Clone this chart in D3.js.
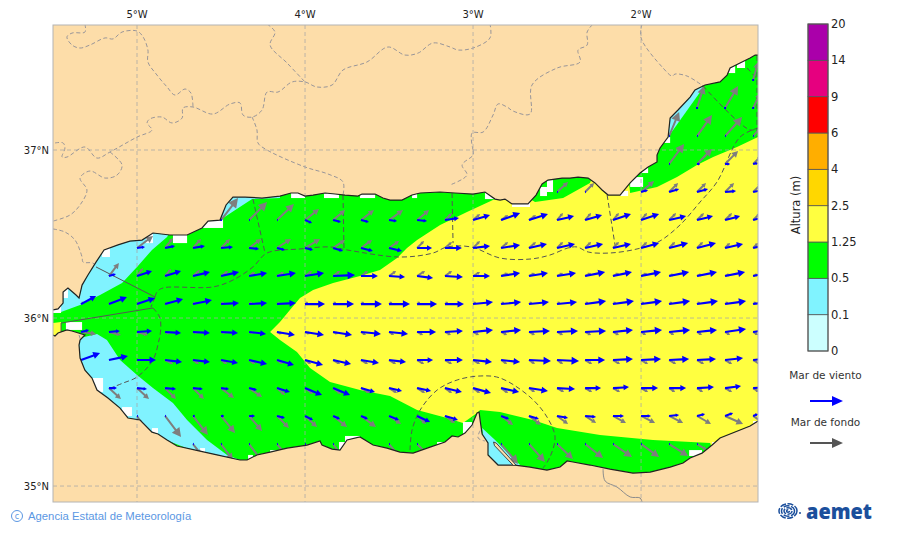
<!DOCTYPE html>
<html><head><meta charset="utf-8">
<style>html,body{margin:0;padding:0;background:#fff}svg{display:block}text{font-family:"DejaVu Sans",sans-serif}</style>
<script src="https://cdn.jsdelivr.net/npm/d3@7/dist/d3.min.js"></script></head><body>
<script>
// ---------- legend data ----------
const levels = ["0","0.1","0.5","1.25","2.5","4","6","9","14","20"];
const bandColors = ["#CCFFFF","#80F3FF","#00FF00","#FFFF40","#FFD700","#FFAE00","#FF0000","#E6007F","#AA00AA"];
const lonTicks = [-5,-4,-3,-2];
const latTicks = [35,36,37];
// ---------- geography (lon, lat) ----------
const northCoast = [[-5.5,36.048],[-5.47,36.054],[-5.44,36.089],[-5.44,36.155],[-5.411,36.179],[-5.363,36.137],[-5.345,36.119],[-5.327,36.196],[-5.292,36.256],[-5.244,36.333],[-5.196,36.405],[-5.113,36.435],[-5.042,36.458],[-4.97,36.464],[-4.905,36.506],[-4.804,36.494],[-4.702,36.494],[-4.613,36.536],[-4.577,36.577],[-4.506,36.583],[-4.47,36.673],[-4.429,36.72],[-4.357,36.72],[-4.256,36.714],[-4.149,36.726],[-4.083,36.744],[-4.042,36.744],[-4,36.726],[-3.952,36.732],[-3.881,36.744],[-3.821,36.738],[-3.762,36.732],[-3.685,36.726],[-3.661,36.738],[-3.583,36.738],[-3.536,36.714],[-3.494,36.702],[-3.423,36.702],[-3.363,36.732],[-3.315,36.744],[-3.196,36.75],[-3.107,36.744],[-3,36.738],[-2.929,36.75],[-2.869,36.708],[-2.839,36.702],[-2.81,36.708],[-2.768,36.679],[-2.673,36.679],[-2.625,36.732],[-2.589,36.798],[-2.554,36.821],[-2.47,36.833],[-2.423,36.833],[-2.375,36.839],[-2.315,36.833],[-2.274,36.804],[-2.232,36.762],[-2.196,36.732],[-2.125,36.732],[-2.065,36.804],[-2.006,36.863],[-1.958,36.899],[-1.905,36.929],[-1.905,36.97],[-1.887,37.012],[-1.839,37.077],[-1.827,37.19],[-1.78,37.238],[-1.708,37.315],[-1.679,37.357],[-1.619,37.387],[-1.53,37.405],[-1.488,37.446],[-1.47,37.488],[-1.411,37.518],[-1.351,37.548],[-1.321,37.565],[-1.304,37.565]];
const southCoast = [[-1.304,35.387],[-1.351,35.357],[-1.53,35.286],[-1.577,35.244],[-1.637,35.196],[-1.708,35.167],[-1.75,35.137],[-1.827,35.113],[-1.946,35.083],[-2.048,35.077],[-2.185,35.101],[-2.304,35.125],[-2.405,35.143],[-2.44,35.149],[-2.482,35.113],[-2.56,35.095],[-2.661,35.113],[-2.75,35.125],[-2.851,35.125],[-2.911,35.185],[-2.911,35.256],[-2.946,35.31],[-2.958,35.393],[-2.964,35.44],[-2.976,35.435],[-3.006,35.363],[-3.048,35.315],[-3.089,35.292],[-3.125,35.298],[-3.167,35.262],[-3.256,35.232],[-3.357,35.196],[-3.435,35.202],[-3.512,35.226],[-3.595,35.244],[-3.673,35.292],[-3.75,35.274],[-3.792,35.214],[-3.839,35.22],[-3.899,35.244],[-3.911,35.268],[-3.988,35.244],[-4.107,35.226],[-4.208,35.202],[-4.286,35.185],[-4.345,35.155],[-4.387,35.155],[-4.524,35.185],[-4.625,35.208],[-4.762,35.238],[-4.821,35.274],[-4.875,35.31],[-4.911,35.321],[-4.982,35.393],[-5.054,35.405],[-5.101,35.464],[-5.173,35.524],[-5.238,35.571],[-5.268,35.643],[-5.31,35.69],[-5.339,35.762],[-5.345,35.839],[-5.339,35.869],[-5.31,35.899],[-5.387,35.923],[-5.417,35.929],[-5.47,35.911],[-5.488,35.893],[-5.5,35.899]];
const yellowBand = [[-2.869,36.708],[-3.036,36.631],[-3.196,36.554],[-3.333,36.464],[-3.393,36.417],[-3.452,36.357],[-3.554,36.286],[-3.673,36.25],[-3.833,36.208],[-3.952,36.167],[-4.03,36.119],[-4.09,36.048],[-4.149,35.976],[-4.208,35.917],[-4.149,35.869],[-4.048,35.798],[-3.97,35.702],[-3.851,35.619],[-3.673,35.571],[-3.494,35.536],[-3.333,35.452],[-3.155,35.405],[-3.06,35.375],[-2.976,35.435],[-2.958,35.452],[-2.839,35.44],[-2.643,35.393],[-2.5,35.345],[-2.244,35.304],[-1.929,35.274],[-1.589,35.256],[-1.554,35.155],[-1.304,35.155],[-1.304,37.077],[-1.429,37.018],[-1.571,36.958],[-1.667,36.911],[-1.786,36.839],[-1.905,36.78],[-2.065,36.744],[-2.077,36.851],[-2.274,36.881],[-2.304,36.804],[-2.464,36.714],[-2.631,36.69],[-2.75,36.762],[-2.869,36.762]];
const yellowStrait = [[-5.5,35.97],[-5.452,35.976],[-5.452,35.911],[-5.5,35.893]];
const cyanNorthWest = [[-5.452,36.036],[-5.339,36.077],[-5.22,36.137],[-5.089,36.208],[-5,36.304],[-4.911,36.405],[-4.821,36.482],[-4.78,36.56],[-5.22,36.56],[-5.49,36.17]];
const cyanEstepona = [[-4.506,36.583],[-4.315,36.708],[-4.149,36.714],[-4.149,36.76],[-4.387,36.78],[-4.595,36.68]];
const cyanSouthWest = [[-5.339,35.881],[-5.238,35.905],[-5.179,35.869],[-5.101,35.75],[-5,35.661],[-4.905,35.583],[-4.786,35.494],[-4.702,35.393],[-4.583,35.274],[-4.464,35.185],[-4.387,35.155],[-4.387,35.1],[-5.4,35.5],[-5.4,35.869]];
const cyanCaboDeGata = [[-1.839,37.077],[-1.631,37.369],[-1.679,37.42],[-1.887,37.149]];
const cyanMarChica = [[-2.946,35.345],[-2.869,35.274],[-2.72,35.125],[-2.839,35.095],[-2.93,35.215]];
const marChicaBar = [[-2.878,35.262],[-2.862,35.256],[-2.744,35.125],[-2.76,35.122],[-2.872,35.24]];
// white cells [west, north, east, south]
const noDataCells = [[-4.607,36.595,-4.488,36.536],[-4.946,36.512,-4.905,36.446],[-4.786,36.512,-4.702,36.446],[-5.208,36.435,-5.161,36.363],[-5.44,36.179,-5.411,36.119],[-5.5,36.071,-5.452,36.03],[-5.423,35.976,-5.327,35.929],[-4.083,36.774,-4,36.714],[-3.887,36.774,-3.798,36.714],[-3.673,36.774,-3.583,36.714],[-3.363,36.774,-3.333,36.714],[-2.929,36.774,-2.869,36.708],[-2.768,36.714,-2.661,36.661],[-2.601,36.78,-2.56,36.726],[-2.56,36.821,-2.524,36.75],[-2.125,36.756,-2.077,36.726],[-2.065,36.839,-1.988,36.78],[-1.994,36.911,-1.958,36.863],[-1.869,37.077,-1.827,37.042],[-1.429,37.536,-1.381,37.488],[-1.488,37.5,-1.44,37.458],[-5.089,35.47,-5.03,35.417],[-4.911,35.345,-4.875,35.315],[-4.625,35.226,-4.595,35.202],[-4.339,35.185,-4.31,35.155],[-4.208,35.214,-4.149,35.202],[-5.268,35.643,-5.202,35.56],[-3.06,35.381,-3.006,35.304],[-3.214,35.262,-3.167,35.238],[-1.714,35.214,-1.637,35.179],[-1.577,35.262,-1.53,35.238],[-3.798,35.262,-3.75,35.202],[-3.762,35.298,-3.673,35.262],[-1.333,35.387,-1.304,35.351]];
// provincial borders on land
const provinceBorders = [
 [[-5.31,37.75],[-5.31,37.702],[-5.387,37.696],[-5.417,37.673],[-5.387,37.625],[-5.339,37.607],[-5.28,37.625],[-5.19,37.667],[-5.143,37.661],[-5.089,37.702],[-5,37.708],[-4.964,37.673],[-4.935,37.595],[-4.935,37.524],[-4.881,37.446],[-4.821,37.375],[-4.774,37.327],[-4.714,37.363],[-4.679,37.339],[-4.667,37.256]],
 [[-5.488,37.042],[-5.44,37.042],[-5.429,37.012],[-5.446,36.958],[-5.417,36.958],[-5.31,37.018],[-5.238,36.952],[-5.161,36.988],[-5,37.077],[-4.911,37.119],[-4.94,37.161],[-4.923,37.185],[-4.851,37.196],[-4.792,37.161],[-4.732,37.19],[-4.726,37.25],[-4.667,37.256],[-4.548,37.214],[-4.446,37.274],[-4.387,37.28],[-4.369,37.208],[-4.315,37.196],[-4.256,37.238],[-4.226,37.345],[-4.161,37.345],[-4.077,37.405],[-4,37.405],[-3.929,37.375],[-3.839,37.387],[-3.774,37.476],[-3.631,37.524],[-3.506,37.613],[-3.405,37.565],[-3.327,37.577],[-3.238,37.637],[-3.137,37.613],[-3.089,37.595],[-3,37.607],[-2.899,37.667],[-2.899,37.75]],
 [[-4.226,37.75],[-4.179,37.702],[-4.208,37.625],[-4.107,37.518],[-4,37.405]],
 [[-4.315,37.196],[-4.286,37.119],[-4.28,37.042],[-4.226,37],[-4,36.899],[-3.863,36.857],[-3.774,36.81],[-3.774,36.732]],
 [[-5.161,36.988],[-5.089,36.911],[-5.119,36.851],[-5.19,36.833],[-5.28,36.875],[-5.339,36.833],[-5.298,36.762],[-5.339,36.673],[-5.399,36.613],[-5.5,36.577]],
 [[-5.5,36.53],[-5.429,36.512],[-5.369,36.464],[-5.327,36.363],[-5.321,36.333],[-5.262,36.327],[-5.244,36.304]],
 [[-3,37],[-3.006,37.101],[-2.94,37.107],[-2.881,37.208],[-2.851,37.274],[-2.798,37.256],[-2.762,37.232],[-2.661,37.214],[-2.649,37.387],[-2.5,37.488],[-2.363,37.524],[-2.375,37.595],[-2.321,37.625],[-2.321,37.702],[-2.286,37.75]],
 [[-3,37],[-3,36.97],[-3.065,36.911],[-3.036,36.851],[-3.137,36.792]],
 [[-1.994,37.75],[-2,37.667],[-1.869,37.488],[-1.815,37.44],[-1.798,37.452],[-1.726,37.44],[-1.631,37.381]],
 [[-5.345,35.899],[-5.327,35.839]],
 [[-2.958,35.33],[-2.97,35.286],[-2.929,35.268]]
];
const moroccoBorder = [[-2.226,35.101],[-2.214,35.03],[-2.143,34.994],[-2.065,34.935],[-2.006,34.929],[-1.994,34.905]];
// maritime forecast zones (dashed)
const zoneSolid = [
 [[-5.244,36.304],[-4.893,36.125]],
 [[-5.452,35.97],[-4.905,36.06]],
 [[-5.452,35.97],[-5.452,35.917]]
];
const zoneDashed = [
 [[-4.893,36.125],[-4.917,36.065]],
 [[-4.905,36.06],[-4.863,36],[-4.863,35.893],[-4.869,35.869],[-4.905,35.75],[-5,35.649],[-5.083,35.613],[-5.173,35.577]],
 [[-4.893,36.125],[-4.881,36.155],[-4.845,36.179],[-4.548,36.185],[-4.429,36.226],[-4.31,36.304],[-4.226,36.387],[-4.03,36.411],[-3.851,36.423],[-3.75,36.405],[-3.435,36.363],[-3.238,36.387],[-3.155,36.423],[-3.012,36.423],[-2.839,36.357],[-2.661,36.351],[-2.542,36.375],[-2.435,36.417],[-2.381,36.423],[-2.315,36.393],[-2.185,36.387],[-2.024,36.411],[-1.899,36.452],[-1.768,36.554],[-1.649,36.69],[-1.548,36.81],[-1.411,37.077],[-1.304,37.131]],
 [[-4.31,36.708],[-4.238,36.387]],
 [[-3.774,36.732],[-3.768,36.405]],
 [[-3.125,36.744],[-3.119,36.446]],
 [[-2.202,36.732],[-2.155,36.435]],
 [[-1.631,37.381],[-1.351,37.119],[-1.304,37.131]],
 [[-1.369,37.488],[-1.304,37.417]],
 [[-1.31,37.56],[-1.31,37.077]],
 [[-3.375,35.214],[-3.363,35.333],[-3.315,35.452],[-3.214,35.571],[-3.095,35.631],[-2.958,35.655],[-2.839,35.643],[-2.661,35.53],[-2.56,35.411],[-2.512,35.292],[-2.542,35.173],[-2.583,35.107]]
];
// ---------- sea-state grid ----------
const gridLons = [-5.5,-5.333,-5.167,-5,-4.833,-4.667,-4.5,-4.333,-4.167,-4,-3.833,-3.667,-3.5,-3.333,-3.167,-3,-2.833,-2.667,-2.5,-2.333,-2.167,-2,-1.833,-1.667,-1.5,-1.333];
const gridLats = [37.417,37.25,37.083,36.917,36.75,36.583,36.417,36.25,36.083,35.917,35.75,35.583,35.417,35.25];
const N = null;
// each row: 26 values, one per gridLons entry; units are arrow lengths in tenths of a metre-equivalent
const windU = [
[N,N,N,N,N,N,N,N,N,N,N,N,N,N,N,N,N,N,N,N,N,N,N,N,N,0],
[N,N,N,N,N,N,N,N,N,N,N,N,N,N,N,N,N,N,N,N,N,N,N,0,0,0],
[N,N,N,N,N,N,N,N,N,N,N,N,N,N,N,N,N,N,N,N,N,N,1,1,1,1],
[N,N,N,N,N,N,N,N,N,N,N,N,N,N,N,N,N,N,N,N,N,N,1,3,5,5],
[N,N,N,N,N,N,N,N,N,N,N,N,N,N,N,N,N,N,1,1,N,7,10,11,11,10],
[N,N,N,N,N,N,0,1,1,7,8,8,8,10,14,17,19,19,17,17,18,18,17,16,15,15],
[N,N,N,8,10,12,12,10,8,8,10,12,13,15,17,17,19,18,18,18,18,18,19,19,18,18],
[N,N,7,15,16,17,18,18,19,19,22,17,16,16,18,17,19,19,19,20,19,20,20,20,20,20],
[N,15,18,18,18,19,18,18,19,20,21,21,21,20,19,20,20,20,20,21,21,21,21,21,21,20],
[N,8,11,15,16,17,17,17,18,19,19,20,19,19,18,20,20,21,21,21,20,21,21,20,21,20],
[N,19,19,19,17,17,17,18,17,18,18,18,17,16,18,19,19,22,22,20,20,20,20,19,18,18],
[N,N,8,10,11,10,8,8,13,17,17,14,13,14,17,18,18,19,18,16,16,17,17,17,16,15],
[N,N,N,1,1,2,3,6,8,8,7,7,10,13,13,N,8,10,11,11,11,10,10,8,8,5],
[N,N,N,N,N,1,1,1,1,1,1,1,1,1,1,N,1,1,1,1,1,1,1,1,N,N]];
const windV = [
[N,N,N,N,N,N,N,N,N,N,N,N,N,N,N,N,N,N,N,N,N,N,N,N,N,0],
[N,N,N,N,N,N,N,N,N,N,N,N,N,N,N,N,N,N,N,N,N,N,N,0,0,0],
[N,N,N,N,N,N,N,N,N,N,N,N,N,N,N,N,N,N,N,N,N,N,0,0,0,0],
[N,N,N,N,N,N,N,N,N,N,N,N,N,N,N,N,N,N,N,N,N,N,0,0,0,1],
[N,N,N,N,N,N,N,N,N,N,N,N,N,N,N,N,N,N,0,0,N,2,3,3,1,2],
[N,N,N,N,N,N,0,0,0,-3,-2,-2,-1,-1,2,5,7,6,4,5,6,6,4,4,4,4],
[N,N,N,1,2,2,1,-1,-2,-2,-3,-3,-3,0,0,2,3,4,4,4,4,5,5,5,4,4],
[N,N,2,5,5,4,4,3,3,3,1,0,-1,-2,-1,0,3,3,3,4,4,4,4,4,4,4],
[N,8,7,6,5,4,1,1,1,0,0,0,0,0,0,2,2,2,2,3,3,3,3,3,3,3],
[N,2,1,1,-1,-1,-1,-2,-3,-3,-3,-2,-2,0,1,2,2,1,1,1,2,2,2,2,3,3],
[N,7,4,0,-2,-2,-3,-4,-5,-5,-4,-3,-2,0,0,-2,-2,-1,-1,0,1,1,1,1,2,2],
[N,N,0,-1,-1,-1,-1,-2,-4,-7,-7,-4,-3,-3,-4,-5,-4,-3,-1,0,1,0,0,1,2,1],
[N,N,N,0,0,0,0,0,-2,-4,-3,-3,-4,-6,-4,N,-3,-3,-2,-1,0,0,1,2,3,2],
[N,N,N,N,N,0,0,0,0,0,0,0,0,0,0,N,0,0,0,0,0,0,0,0,N,N]];
const swellU = [
[N,N,N,N,N,N,N,N,N,N,N,N,N,N,N,N,N,N,N,N,N,N,N,N,N,5],
[N,N,N,N,N,N,N,N,N,N,N,N,N,N,N,N,N,N,N,N,N,N,N,7,13,7],
[N,N,N,N,N,N,N,N,N,N,N,N,N,N,N,N,N,N,N,N,N,N,10,15,17,16],
[N,N,N,N,N,N,N,N,N,N,N,N,N,N,N,N,N,N,N,N,N,N,15,15,13,8],
[N,N,N,N,N,N,N,N,N,N,N,N,N,N,N,N,N,N,11,9,N,13,9,9,9,9],
[N,N,N,N,N,N,17,18,17,14,12,13,14,12,7,7,7,7,6,6,6,6,7,7,7,7],
[N,N,N,16,8,8,9,12,14,15,12,11,10,7,7,7,7,7,6,6,6,6,6,6,5,5],
[N,N,10,6,6,7,7,6,7,7,7,7,7,8,7,7,7,6,6,6,6,6,5,5,5,5],
[N,3,3,3,3,3,3,3,3,3,3,3,3,3,3,3,3,3,3,3,3,3,3,3,3,3],
[N,15,12,11,5,5,5,5,5,5,5,5,5,6,6,6,6,6,6,6,6,5,5,5,5,5],
[N,N,N,N,8,6,6,6,6,6,7,7,7,7,7,7,6,6,6,7,7,7,7,7,7,7],
[N,N,12,12,11,11,13,13,8,8,8,9,8,8,7,7,7,6,7,7,7,7,6,6,7,6],
[N,N,N,5,16,15,14,13,12,12,14,15,12,9,10,N,12,12,11,11,13,14,14,14,18,12],
[N,N,N,N,N,8,12,12,12,11,10,10,10,10,8,N,17,16,16,18,19,18,19,10,N,N]];
const swellV = [
[N,N,N,N,N,N,N,N,N,N,N,N,N,N,N,N,N,N,N,N,N,N,N,N,N,18],
[N,N,N,N,N,N,N,N,N,N,N,N,N,N,N,N,N,N,N,N,N,N,N,22,22,15],
[N,N,N,N,N,N,N,N,N,N,N,N,N,N,N,N,N,N,N,N,N,N,24,21,19,18],
[N,N,N,N,N,N,N,N,N,N,N,N,N,N,N,N,N,N,N,N,N,N,20,15,13,8],
[N,N,N,N,N,N,N,N,N,N,N,N,N,N,N,N,N,N,10,9,N,11,9,9,9,9],
[N,N,N,N,N,N,22,18,16,11,10,10,10,10,7,6,5,5,7,7,7,7,7,7,7,7],
[N,N,N,12,10,9,9,9,9,9,8,8,7,7,6,7,6,6,6,6,6,6,6,6,5,5],
[N,N,13,8,7,6,5,4,4,5,5,5,5,5,5,4,3,3,3,3,3,3,2,2,2,2],
[N,2,2,2,2,2,2,2,2,2,2,2,2,2,2,2,2,2,2,2,2,2,2,2,2,2],
[N,-2,-3,-3,-2,-1,-1,-1,-2,-2,-2,-3,-3,-3,-3,-3,-3,-3,-3,-3,-3,-3,-3,-3,-3,-3],
[N,N,N,N,-4,-4,-4,-4,-4,-4,-4,-4,-4,-4,-4,-4,-4,-4,-4,-4,-4,-4,-4,-4,-4,-4],
[N,N,-11,-11,-11,-11,-10,-9,-7,-6,-6,-5,-5,-5,-5,-5,-5,-4,-4,-4,-4,-4,-4,-4,-4,-4],
[N,N,N,-8,-21,-19,-17,-15,-12,-11,-11,-11,-8,-8,-7,N,-9,-9,-8,-7,-7,-7,-7,-8,-8,-8],
[N,N,N,N,N,-10,-16,-16,-14,-14,-14,-12,-12,-10,-8,N,-20,-18,-15,-14,-13,-13,-12,-6,N,N]];

// ---------- drawing ----------
const W=900,H=533;
const svg=d3.select("body").append("svg").attr("width",W).attr("height",H);
const x=d3.scaleLinear().domain([-5.5,-1.304]).range([53,758]);
const y=d3.scaleLinear().domain([34.905,37.744]).range([502,25]);
const arrowLen=d3.scaleLinear().domain([0,10]).range([0,10]);
const line=d3.line().x(d=>x(d[0])).y(d=>y(d[1]));
const curve=d3.line().x(d=>x(d[0])).y(d=>y(d[1])).curve(d3.curveCatmullRom.alpha(.5));
const closed=p=>line(p)+"Z";
const seaPoly=northCoast.concat(southCoast);
const LAND="#FDDDA9", GRAT="#A6A6A6";

const defs=svg.append("defs");
defs.append("clipPath").attr("id","sea").append("path").attr("d",closed(seaPoly));
defs.append("clipPath").attr("id","frame").append("rect").attr("x",53).attr("y",25).attr("width",705).attr("height",477);

const map=svg.append("g").attr("clip-path","url(#frame)");
map.append("rect").attr("x",53).attr("y",25).attr("width",705).attr("height",477).attr("fill",LAND);
map.append("g").selectAll("path").data(provinceBorders).join("path").attr("d",d=>curve(d))
  .attr("fill","none").attr("stroke","#8C8C96").attr("stroke-width",.9).attr("stroke-dasharray","4,2.5");
map.append("path").attr("d",curve(moroccoBorder)).attr("fill","none").attr("stroke","#8C8C8C").attr("stroke-width",1);

map.append("path").attr("d",closed(seaPoly)).attr("fill","#00FF00");
const seaG=map.append("g").attr("clip-path","url(#sea)");
[cyanNorthWest,cyanEstepona,cyanSouthWest,cyanCaboDeGata,cyanMarChica].forEach(p=>seaG.append("path").attr("d",closed(p)).attr("fill",bandColors[1]));
[yellowBand,yellowStrait].forEach(p=>seaG.append("path").attr("d",closed(p)).attr("fill",bandColors[3]));
seaG.append("g").selectAll("rect").data(noDataCells).join("rect")
  .attr("x",d=>x(d[0])).attr("y",d=>y(d[1])).attr("width",d=>x(d[2])-x(d[0])).attr("height",d=>y(d[3])-y(d[1])).attr("fill","#fff");

// graticule
const grat=map.append("g").attr("fill","none").attr("stroke",GRAT).attr("stroke-width",.9).attr("stroke-opacity",.85).attr("stroke-dasharray","4,3");
grat.selectAll("line.v").data(lonTicks).join("line").attr("x1",d=>x(d)).attr("x2",d=>x(d)).attr("y1",25).attr("y2",502);
grat.selectAll("line.h").data(latTicks).join("line").attr("y1",d=>y(d)).attr("y2",d=>y(d)).attr("x1",53).attr("x2",758);

// zones
const zones=map.append("g").attr("fill","none").attr("stroke","#555").attr("stroke-width",1);
zones.selectAll("path.s").data(zoneSolid).join("path").attr("d",d=>line(d));
zones.append("g").selectAll("path").data(zoneDashed).join("path").attr("d",d=>curve(d)).attr("stroke-dasharray","5,3");

// arrows
function arrowPath(x0,y0,dx,dy,sw,hl,hw){
  const L=Math.hypot(dx,dy); if(L<.5) return `M${x0-1},${y0-1}h2v2h-2Z`;
  const ux=dx/L,uy=dy/L,nx=-uy,ny=ux,h=Math.min(hl,L*.5),w=hw;
  const bx=x0+dx-ux*h,by=y0+dy-uy*h;
  const P=(a,b)=>`${a.toFixed(2)},${b.toFixed(2)}`;
  return "M"+P(x0+nx*sw/2,y0+ny*sw/2)+"L"+P(bx+nx*sw/2,by+ny*sw/2)+"L"+P(bx+nx*w/2,by+ny*w/2)+"L"+P(x0+dx,y0+dy)
   +"L"+P(bx-nx*w/2,by-ny*w/2)+"L"+P(bx-nx*sw/2,by-ny*sw/2)+"L"+P(x0-nx*sw/2,y0-ny*sw/2)+"Z";
}
function vectors(U,V){const out=[];U.forEach((row,r)=>row.forEach((u,c)=>{if(u!==null)out.push({lon:gridLons[c],lat:gridLats[r],u,v:V[r][c]});}));return out;}
const arrowsG=map.append("g").attr("clip-path","url(#sea)");
function drawArrows(U,V,color,sw){
  arrowsG.append("g").selectAll("path").data(vectors(U,V)).join("path").attr("fill",color)
   .attr("d",d=>{const dx=arrowLen(d.u),dy=-arrowLen(d.v),L=Math.hypot(dx,dy);
     return arrowPath(x(d.lon),y(d.lat),dx,dy,sw,Math.max(3,.34*L),Math.max(3.5,.36*L));});
}
drawArrows(swellU,swellV,"#7E7E7E",2);
drawArrows(windU,windV,"#0000FF",2.1);

// coast
map.append("path").attr("d",line(northCoast)).attr("fill","none").attr("stroke","#222").attr("stroke-width",1.2);
map.append("path").attr("d",line(southCoast)).attr("fill","none").attr("stroke","#222").attr("stroke-width",1.2);
map.append("path").attr("d",closed(marChicaBar)).attr("fill",LAND).attr("stroke","#333").attr("stroke-width",.9);

svg.append("rect").attr("x",53).attr("y",25).attr("width",705).attr("height",477).attr("fill","none").attr("stroke","#B4B4B4").attr("stroke-width",1);

// axis labels
const fmtLon=d=>Math.abs(d)+"°W", fmtLat=d=>d+"°N";
svg.append("g").selectAll("text").data(lonTicks).join("text").attr("x",d=>x(d)).attr("y",18).attr("text-anchor","middle")
 .attr("font-size",10).attr("fill","#222").text(fmtLon);
svg.append("g").selectAll("text").data(latTicks).join("text").attr("x",49).attr("y",d=>y(d)+3.5).attr("text-anchor","end")
 .attr("font-size",10).attr("fill","#222").text(fmtLat);

// colour bar
const cb=d3.scalePoint().domain(levels).range([351,24]);
const cbG=svg.append("g");
cbG.selectAll("rect").data(bandColors).join("rect").attr("x",808).attr("width",20)
 .attr("y",(d,i)=>cb(levels[i+1])).attr("height",(d,i)=>cb(levels[i])-cb(levels[i+1])).attr("fill",d=>d)
 .attr("stroke","#555").attr("stroke-width",.8);
cbG.append("rect").attr("x",808).attr("y",24).attr("width",20).attr("height",327).attr("fill","none").attr("stroke","#555").attr("stroke-width",1);
cbG.selectAll("text").data(levels).join("text").attr("x",831).attr("y",d=>cb(d)+4).attr("font-size",11.5).attr("fill","#222").text(d=>d);
svg.append("text").attr("transform","translate(800,205) rotate(-90)").attr("text-anchor","middle").attr("font-size",11.5).attr("fill","#222").text("Altura (m)");

// arrow legend
svg.append("text").attr("x",825.5).attr("y",379).attr("text-anchor","middle").attr("font-size",10.5).attr("fill","#333").text("Mar de viento");
svg.append("path").attr("d",arrowPath(810,401,33,0,2.2,11,10)).attr("fill","#0000FF");
svg.append("text").attr("x",825.5).attr("y",426).attr("text-anchor","middle").attr("font-size",10.5).attr("fill","#333").text("Mar de fondo");
svg.append("path").attr("d",arrowPath(810,443,33,0,2.2,11,10)).attr("fill","#555");

// footer
svg.append("circle").attr("cx",17).attr("cy",516).attr("r",5.5).attr("fill","none").attr("stroke","#5B97E3").attr("stroke-width",1);
svg.append("text").attr("x",17).attr("y",519).attr("text-anchor","middle").attr("font-size",8).attr("fill","#5B97E3").text("c");
svg.append("text").attr("x",28).attr("y",520).style("font-family","'Liberation Sans'").attr("font-size",11.3).attr("fill","#5B97E3").text("Agencia Estatal de Meteorología");

// logo
const logo=svg.append("g").attr("fill","none").attr("stroke","#1B4F9C");
[[788,511,9],[788,511,6.5],[788,511,4],[788,511,1.5]].forEach(([cx,cy,r])=>logo.append("ellipse").attr("cx",cx).attr("cy",cy).attr("rx",r).attr("ry",r*.8).attr("stroke-width",1.5).attr("stroke-dasharray","6,1.5"));
logo.append("circle").attr("cx",800).attr("cy",513).attr("r",1).attr("fill","#1B4F9C").attr("stroke","none");
svg.append("text").attr("x",806).attr("y",519).style("font-family","'Open Sans'").attr("font-weight",800).attr("font-size",21).attr("fill","#1B4F9C").attr("textLength",66).attr("lengthAdjust","spacingAndGlyphs").text("aemet");
</script></body></html>
